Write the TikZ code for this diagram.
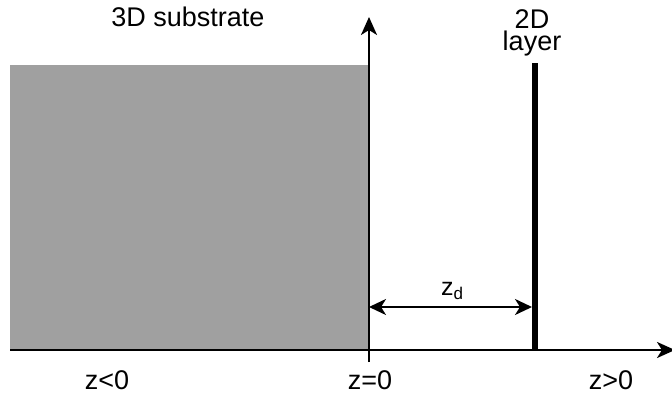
\documentclass[tikz,border=0pt]{standalone}
\usepackage{fontspec}
\setmainfont{Liberation Sans}
\usepackage{tikz}
\usetikzlibrary{arrows.meta,positioning}
\definecolor{substrategray}{RGB}{160,160,160}

\begin{document}
\begin{tikzpicture}[x=1pt, y=-1pt,
    txt/.style={font=\fontsize{27}{22}\selectfont, inner sep=0pt, anchor=base},
    axis/.style={line width=2.4pt, -{Stealth[length=18pt, width=16pt, inset=5pt]}},
    gap/.style={line width=2.4pt,
                {Stealth[length=17pt, width=16pt, inset=5pt]}-{Stealth[length=17pt, width=16pt, inset=5pt]}},
    sheet/.style={line width=6pt}
]
\useasboundingbox (0,0) rectangle (672,398);
% substrate block
\fill[substrategray] (10,65) rectangle (369,350);

\coordinate (xl) at (10,350);
\coordinate (xr) at (675,350);
\coordinate (zbot) at (369,362);
\coordinate (ztop) at (369,17);
\coordinate (lbot) at (535,350);
\coordinate (ltop) at (535,63);
\coordinate (gapl) at (369,307);
\coordinate (gapr) at (532,307);

\draw[axis] (xl) -- (xr);
\draw[axis] (zbot) -- (ztop);
\draw[sheet] (lbot) -- (ltop);
\draw[gap] (gapl) -- (gapr);

\node[txt] (sub) at (188,27) {3D substrate};
\node[txt, anchor=north, align=center] (lay) at (532,9) {2D\\layer};
\node[txt, font=\fontsize{25}{25}\selectfont] (zd) at (452,295)
  {z\raisebox{-4pt}{\fontsize{17}{17}\selectfont d}};
\node[txt] (neg) at (107,389) {z<0};
\node[txt] (zero) at (370,389) {z=0};
\node[txt] (pos) at (611,389) {z>0};
\end{tikzpicture}
\end{document}
